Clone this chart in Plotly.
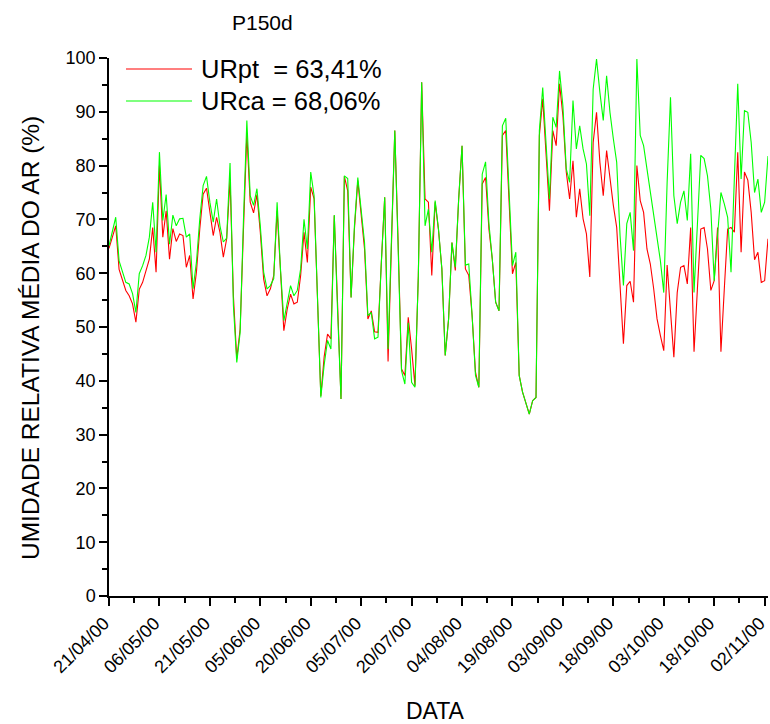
import pandas as pd
import plotly.graph_objects as go

start_date = "2000-04-21"
n_days = 197

ur_pt = [64.6, 66.5, 68.8, 60.7, 58.8, 56.8, 55.8, 54.3, 50.9, 57.0,
         58.3, 60.5, 62.6, 68.5, 60.2, 80.0, 66.7, 71.6, 62.6, 68.3,
         65.9, 67.3, 67.0, 61.1, 63.3, 55.2, 60.2, 68.2, 74.7, 75.8,
         71.3, 67.0, 70.4, 67.6, 63.0, 66.4, 77.5, 55.8, 44.1, 49.6,
         68.2, 85.9, 73.2, 71.2, 74.6, 67.6, 58.9, 55.8, 57.1, 59.6,
         71.6, 60.2, 49.3, 53.3, 56.1, 54.3, 54.6, 59.6, 67.6, 62.0,
         76.0, 73.8, 55.5, 37.2, 44.5, 48.7, 47.8, 70.7, 54.0, 36.6,
         78.0, 75.3, 55.5, 68.2, 77.2, 71.3, 64.5, 51.5, 53.0, 49.1,
         49.0, 62.0, 74.1, 43.6, 65.7, 86.5, 65.7, 42.2, 41.0, 51.8,
         45.9, 39.1, 59.5, 95.5, 73.8, 73.2, 59.6, 73.2, 68.0, 60.8,
         44.7, 51.5, 65.7, 60.5, 73.8, 83.7, 60.8, 59.6, 52.1, 41.6,
         38.8, 76.6, 77.8, 68.2, 62.6, 54.6, 53.0, 85.6, 86.5, 73.8,
         59.9, 62.0, 41.0, 37.9, 35.7, 33.8, 36.3, 36.9, 85.6, 92.4,
         82.0, 71.6, 86.5, 83.7, 95.2, 89.3, 78.8, 73.8, 80.9, 70.4,
         75.7, 70.1, 67.3, 59.3, 84.3, 89.9, 80.6, 74.4, 82.8, 77.5,
         72.6, 68.5, 57.7, 46.9, 57.7, 58.5, 54.6, 80.0, 73.5, 71.3,
         64.5, 61.7, 57.1, 51.5, 48.4, 45.6, 61.5, 53.0, 44.4, 56.4,
         61.1, 61.4, 58.0, 68.5, 45.4, 57.0, 68.2, 68.5, 64.5, 56.8,
         58.6, 68.5, 45.4, 57.0, 68.2, 68.5, 67.6, 82.5, 63.9, 78.8,
         77.3, 71.3, 62.5, 63.9, 58.3, 58.6, 66.4]

ur_ca = [65.1, 67.6, 70.4, 62.3, 60.2, 58.3, 58.0, 56.2, 52.7, 59.9,
         61.4, 63.3, 66.7, 73.2, 63.9, 82.5, 69.8, 74.6, 65.4, 70.8,
         68.8, 70.1, 70.2, 66.7, 67.3, 57.1, 62.0, 70.1, 76.3, 78.0,
         73.2, 69.5, 73.8, 68.8, 65.8, 66.5, 80.5, 54.0, 43.4, 49.0,
         70.1, 88.4, 74.4, 72.6, 75.7, 68.8, 60.2, 57.1, 57.7, 59.0,
         73.2, 60.8, 51.2, 54.6, 57.7, 55.8, 56.8, 60.8, 70.0, 64.5,
         78.8, 74.4, 56.0, 36.9, 43.0, 47.5, 45.9, 70.8, 52.7, 36.6,
         78.1, 77.6, 55.5, 68.8, 77.8, 71.9, 65.7, 52.1, 52.7, 47.8,
         48.1, 62.0, 74.1, 45.9, 65.7, 86.5, 64.5, 41.9, 39.4, 50.8,
         39.7, 38.8, 59.5, 95.5, 68.8, 71.9, 63.9, 73.5, 68.2, 60.8,
         44.7, 51.5, 65.7, 61.1, 73.8, 83.7, 61.5, 61.7, 52.1, 41.0,
         38.8, 78.4, 80.7, 69.2, 62.6, 54.6, 53.0, 87.4, 88.8, 74.4,
         61.4, 63.9, 41.0, 37.9, 35.7, 33.8, 36.3, 36.9, 86.5, 94.5,
         84.0, 73.8, 89.0, 87.1, 97.6, 91.1, 79.4, 76.9, 92.1, 83.1,
         87.4, 83.1, 80.3, 70.7, 94.2, 99.8, 93.6, 88.4, 96.7, 89.9,
         85.0, 80.6, 67.0, 57.7, 69.2, 71.3, 64.2, 99.8, 85.6, 83.7,
         79.4, 75.0, 71.3, 66.0, 62.3, 56.4, 76.9, 92.7, 74.4, 69.2,
         73.2, 75.3, 69.8, 82.2, 56.4, 69.0, 81.9, 81.3, 78.1, 71.9,
         58.6, 67.0, 75.0, 72.9, 70.4, 60.2, 77.0, 95.2, 77.5, 90.2,
         89.9, 84.3, 75.0, 77.5, 71.3, 73.2, 81.8]

legend_labels = ["URpt\u00a0\u00a0= 63,41%", "URca = 68,06%"]
title_text = "P150d"
x_title = "DATA"
y_title = "UMIDADE RELATIVA MÉDIA DO AR (%)"

dates = pd.date_range(start_date, periods=n_days, freq="D")
tick_dates = pd.date_range(start_date, periods=14, freq="15D")
tick_text = [d.strftime("%d/%m/%y") for d in tick_dates]

FONT = "Arial, 'Liberation Sans', sans-serif"
RED = "#ff0000"
GREEN = "#00ff00"

fig = go.Figure()
fig.add_trace(go.Scatter(x=dates, y=ur_pt, mode="lines", name=legend_labels[0],
                         line=dict(color=RED, width=1.1)))
fig.add_trace(go.Scatter(x=dates, y=ur_ca, mode="lines", name=legend_labels[1],
                         line=dict(color=GREEN, width=1.1)))

W, H = 770, 724
ml, mr, mt, mb = 109, 2, 58, 128
pw, ph = W - ml - mr, H - mt - mb

def px(x):
    return (x - ml) / pw

def py(y):
    return (H - mb - y) / ph

fig.update_layout(
    width=W, height=H,
    margin=dict(l=ml, r=mr, t=mt, b=mb, autoexpand=False),
    paper_bgcolor="white", plot_bgcolor="white",
    showlegend=False,
    font=dict(family=FONT, color="black"),
    xaxis=dict(
        type="date", automargin=False,
        range=[dates[0], dates[-1]],
        tickvals=list(tick_dates), ticktext=tick_text,
        tickangle=-45, tickfont=dict(size=18, family=FONT),
        ticklabeloverflow="allow", ticklabelshift=-5,
        ticks="outside", ticklen=8, tickwidth=1.5, tickcolor="black",
        minor=dict(ticks="outside", ticklen=5, tickwidth=1.5, tickcolor="black",
                   tick0=start_date, dtick=7.5 * 86400000),
        showline=True, linecolor="black", linewidth=1.5,
        showgrid=False, zeroline=False,
    ),
    yaxis=dict(
        automargin=False,
        range=[0, 100], dtick=10, tick0=0,
        tickfont=dict(size=18, family=FONT),
        ticks="outside", ticklen=8, tickwidth=1.5, tickcolor="black",
        minor=dict(ticks="outside", ticklen=5, tickwidth=1.5, tickcolor="black", dtick=5),
        showline=True, linecolor="black", linewidth=1.5,
        showgrid=False, zeroline=False,
    ),
)

fig.add_annotation(text=title_text, xref="paper", yref="paper", x=px(262), y=py(22),
                   showarrow=False, font=dict(size=21, family=FONT), xanchor="center", yanchor="middle")
fig.add_annotation(text=x_title, xref="paper", yref="paper", x=px(435), y=py(711),
                   showarrow=False, font=dict(size=23, family=FONT), xanchor="center", yanchor="middle")
fig.add_annotation(text=y_title, xref="paper", yref="paper", x=px(30), y=py(338),
                   textangle=-90, showarrow=False, font=dict(size=24.5, family=FONT),
                   xanchor="center", yanchor="middle")

for i, (lab, col) in enumerate(zip(legend_labels, [RED, GREEN])):
    yy = 69 + 32 * i
    fig.add_shape(type="line", xref="paper", yref="paper", x0=px(126), x1=px(192),
                  y0=py(yy), y1=py(yy), line=dict(color=col, width=1.2))
    fig.add_annotation(text=lab, xref="paper", yref="paper", x=px(199), y=py(yy),
                       showarrow=False, font=dict(size=25.5, family=FONT),
                       xanchor="left", yanchor="middle")

fig.write_html("out.html", config={"displayModeBar": False},
               post_script="document.body.style.margin='0px';document.body.style.overflow='hidden';")
